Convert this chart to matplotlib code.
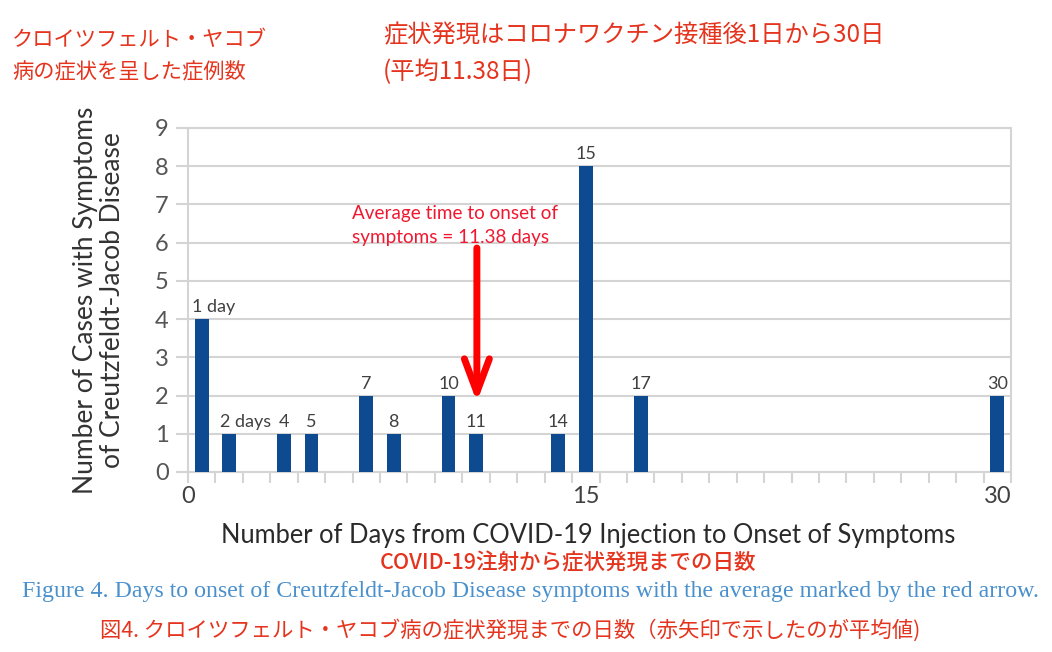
import numpy as np
import matplotlib
matplotlib.use('Agg')
import matplotlib.pyplot as plt

# data
days = [1, 2, 4, 5, 7, 8, 10, 11, 14, 15, 17, 30]
cases = [4, 1, 1, 1, 2, 1, 2, 1, 1, 8, 2, 2]
bar_labels = ['1 day', '2 days', '4', '5', '7', '8', '10', '11', '14', '15', '17', '30']
avg_days = 11.38
xtick_labels = ['0', '15', '30']
yticks = list(range(0, 10))

jp = ['Noto Sans CJK JP', 'DejaVu Sans']
latin = ['Lato', 'DejaVu Sans']
red_jp = '#e5341e'
bar_col = '#0d4a8f'
grid_col = '#d4d4d4'

W, H = 1052, 652
fig = plt.figure(figsize=(W / 100, H / 100), dpi=100)

def px(x, y):
    return x / W, 1 - y / H

l, b = px(188, 472)
r, t = px(1011, 128)
ax = fig.add_axes([l, b, r - l, t - b])

ax.bar(days, cases, width=0.5, color=bar_col, zorder=3)
ax.set_xlim(0.5, 30.5)
ax.set_ylim(0, 9)

for d, c, s in zip(days, cases, bar_labels):
    if 'day' in s:
        ax.text(d - 0.35, c + 0.1, s, ha='left', va='bottom', fontsize=13,
                color='#404040', family=latin)
    else:
        ax.text(d, c + 0.1, s, ha='center', va='bottom', fontsize=13,
                color='#404040', family=latin)

# grid + frame
ax.set_yticks(yticks)
ax.yaxis.grid(True, color=grid_col, lw=1.5, zorder=0)
for sp in ax.spines.values():
    sp.set_color(grid_col)
    sp.set_linewidth(1.5)
ax.tick_params(axis='y', length=9, width=1.5, color=grid_col, pad=5,
               labelsize=17, labelcolor='#555555')
for lab in ax.get_yticklabels():
    lab.set_family(latin)

# x ticks on category boundaries, labels on 0 / 15 / 30
ax.set_xticks(np.arange(0.5, 31, 1))
ax.set_xticklabels([])
ax.tick_params(axis='x', which='major', length=8, width=1.5, color=grid_col)
ax.xaxis.remove_overlapping_locs = False
ax.set_xticks([0.5, 15, 30], minor=True)
ax.set_xticklabels(xtick_labels, minor=True)
ax.tick_params(axis='x', which='minor', length=0, pad=10, labelsize=17,
               labelcolor='#404040')
for lab in ax.get_xticklabels(minor=True):
    lab.set_family(latin)

ax.set_ylabel('Number of Cases with Symptoms\nof Creutzfeldt-Jacob Disease',
              fontsize=19, color='#333333', family=latin, linespacing=1.1)
ax.yaxis.set_label_coords(-0.077, 0.5)

# average arrow
ax.text(6.48, 6.45, 'Average time to onset of\nsymptoms = %.2f days' % avg_days,
        ha='left', va='center', fontsize=13.6, color='#f01830', family=latin,
        linespacing=1.45)
ax.annotate('', xy=(avg_days - 0.35, 1.83), xytext=(avg_days - 0.35, 5.86),
            arrowprops=dict(arrowstyle='->,head_length=0.8,head_width=0.3',
                            lw=5, color='#ff0000', mutation_scale=30,
                            shrinkA=0, shrinkB=0), zorder=4)

fig.text(*px(588, 535), 'Number of Days from COVID-19 Injection to Onset of Symptoms',
         ha='center', va='center', fontsize=18.4, color='#2a2a2a', family=latin)
fig.text(*px(568, 563), 'COVID-19注射から症状発現までの日数',
         ha='center', va='center', fontsize=15.5, color=red_jp, family=jp,
         fontweight='medium')
fig.text(*px(530, 591), 'Figure 4. Days to onset of Creutzfeldt-Jacob Disease symptoms '
         'with the average marked by the red arrow.',
         ha='center', va='center', fontsize=17.2, color='#4a90cc',
         family=['Liberation Serif', 'DejaVu Serif'])
fig.text(*px(100, 630), '図4. クロイツフェルト・ヤコブ病の症状発現までの日数（赤矢印で示したのが平均値)',
         ha='left', va='center', fontsize=15.4, color=red_jp, family=jp)

fig.text(*px(12, 40), 'クロイツフェルト・ヤコブ', ha='left', va='center',
         fontsize=15.3, color=red_jp, family=jp)
fig.text(*px(12, 72), '病の症状を呈した症例数', ha='left', va='center',
         fontsize=15.3, color=red_jp, family=jp)
fig.text(*px(383, 35), '症状発現はコロナワクチン接種後1日から30日', ha='left',
         va='center', fontsize=17.5, color=red_jp, family=jp)
fig.text(*px(383, 72), '(平均%.2f日)' % avg_days, ha='left', va='center',
         fontsize=17.5, color=red_jp, family=jp)

fig.savefig('out.png', dpi=100, facecolor='white')
